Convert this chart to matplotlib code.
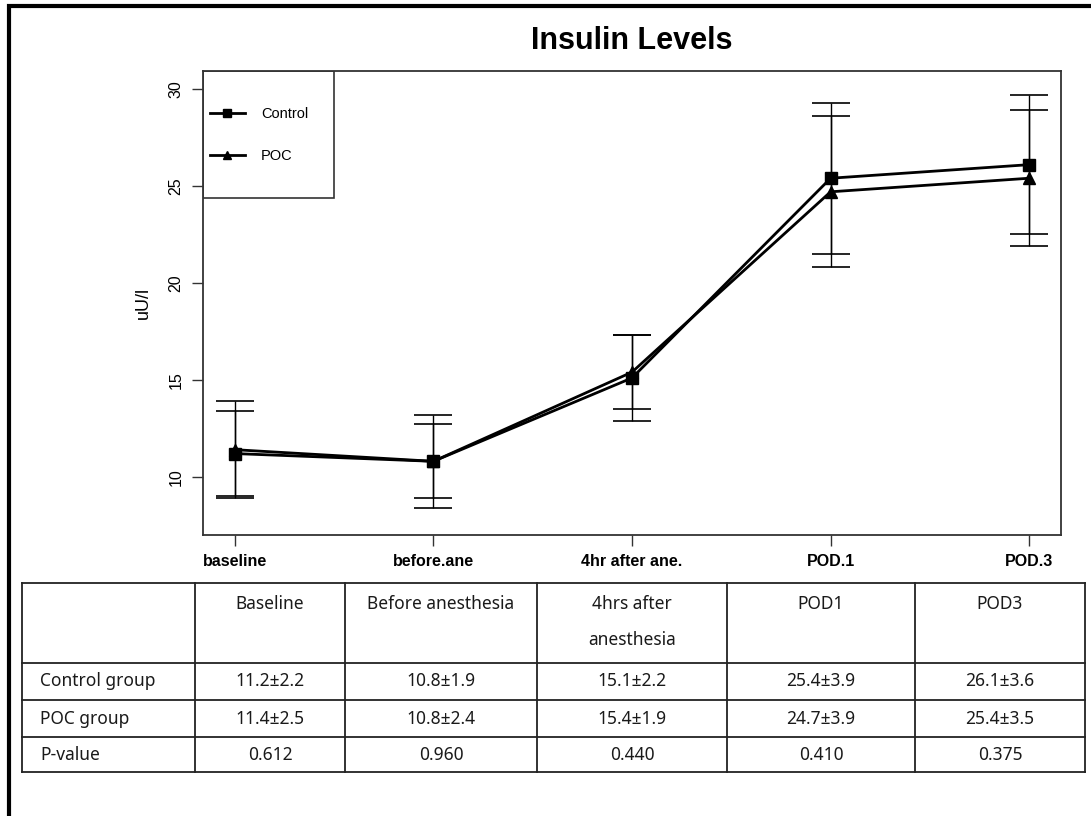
"""Insulin levels by time point for the Control and POC groups, with summary table."""

import matplotlib
matplotlib.use('Agg')
import matplotlib.pyplot as plt
from matplotlib.patches import Rectangle

plt.rcParams['font.family'] = ['Liberation Sans', 'DejaVu Sans']

TIME_POINTS = ['baseline', 'before.ane', '4hr after ane.', 'POD.1', 'POD.3']
CONTROL_MEAN = [11.2, 10.8, 15.1, 25.4, 26.1]
CONTROL_SD = [2.2, 1.9, 2.2, 3.9, 3.6]
POC_MEAN = [11.4, 10.8, 15.4, 24.7, 25.4]
POC_SD = [2.5, 2.4, 1.9, 3.9, 3.5]
P_VALUES = ['0.612', '0.960', '0.440', '0.410', '0.375']

TABLE_HEADERS = ['', 'Baseline', 'Before anesthesia', '4hrs after\nanesthesia',
                 'POD1', 'POD3']
ROW_LABELS = ['Control group', 'POC group', 'P-value']

W, H = 1091, 816


def fmt(mean, sd):
  return f'{mean:.1f}\u00b1{sd:.1f}'


def px_axes(fig, left, top, right, bottom):
  return fig.add_axes([left / W, 1 - bottom / H, (right - left) / W,
                       (bottom - top) / H])


def draw_plot(fig):
  ax = px_axes(fig, 203, 71, 1061, 535)
  x = list(range(1, len(TIME_POINTS) + 1))
  for mean, sd in ((CONTROL_MEAN, CONTROL_SD), (POC_MEAN, POC_SD)):
    ax.errorbar(x, mean, yerr=sd, fmt='none', ecolor='black', elinewidth=1,
                capsize=14, capthick=1.2)
  ax.plot(x, CONTROL_MEAN, color='black', lw=2, marker='s', markersize=8,
          label='Control')
  ax.plot(x, POC_MEAN, color='black', lw=2, marker='^', markersize=8.5,
          label='POC')

  ax.set_xlim(0.84, 5.16)
  ax.set_ylim(7.0, 30.93)
  ax.set_xticks(x)
  ax.set_xticklabels(TIME_POINTS, fontsize=11.5, fontweight='bold')
  ax.set_yticks([10, 15, 20, 25, 30])
  ax.set_yticklabels(['10', '15', '20', '25', '30'], fontsize=11.5,
                     rotation=90, va='center')
  ax.tick_params(direction='out', length=8, width=1, colors='#333333',
                 labelcolor='black', pad=6)
  ax.set_ylabel('uU/l', fontsize=13, labelpad=12)
  for spine in ax.spines.values():
    spine.set_linewidth(1.3)
    spine.set_color('#333333')
  ax.set_title('Insulin Levels', fontsize=22, fontweight='bold', pad=16)

  # Legend box in the top-left corner, R style
  ax.add_patch(Rectangle((0, 0.726), 0.153, 0.274, transform=ax.transAxes,
                         fill=False, edgecolor='#333333', lw=1.2, zorder=5))
  ax.legend(loc='upper left', bbox_to_anchor=(0.008, 0.923), frameon=False,
            borderpad=0, borderaxespad=0, labelspacing=1.95, handlelength=2.4,
            handletextpad=1.1, fontsize=10.5, markerscale=0.75)


def draw_table(fig):
  ax = fig.add_axes([0, 0, 1, 1])
  ax.set_xlim(0, W)
  ax.set_ylim(H, 0)
  ax.axis('off')

  # Outer frame (left and top edges)
  ax.plot([9, 9, W], [H, 6, 6], color='black', lw=3, solid_joinstyle='miter')

  col_edges = [22, 195, 345, 537, 727, 915, 1085]
  row_edges = [583, 663, 700, 737, 772]
  for cx in col_edges:
    ax.plot([cx, cx], [row_edges[0], row_edges[-1]], color='#222222', lw=1.3)
  for ry in row_edges:
    ax.plot([col_edges[0], col_edges[-1]], [ry, ry], color='#222222', lw=1.3)

  font = dict(family=['Noto Sans', 'DejaVu Sans'], fontsize=12.5,
              color='#1a1a1a')
  for i, header in enumerate(TABLE_HEADERS):
    cx = (col_edges[i] + col_edges[i + 1]) / 2
    for j, line in enumerate(header.split('\n')):
      ax.text(cx, 604 + j * 36, line, ha='center', va='center', **font)

  rows = [
      [fmt(m, s) for m, s in zip(CONTROL_MEAN, CONTROL_SD)],
      [fmt(m, s) for m, s in zip(POC_MEAN, POC_SD)],
      P_VALUES,
  ]
  for r, (label, values) in enumerate(zip(ROW_LABELS, rows)):
    cy = (row_edges[r + 1] + row_edges[r + 2]) / 2
    ax.text(col_edges[0] + 18, cy, label, ha='left', va='center', **font)
    for c, value in enumerate(values):
      cx = (col_edges[c + 1] + col_edges[c + 2]) / 2
      ax.text(cx, cy, value, ha='center', va='center', **font)


def main():
  fig = plt.figure(figsize=(W / 100, H / 100), dpi=100)
  draw_table(fig)
  draw_plot(fig)
  fig.savefig('out.png', dpi=100)
  plt.close(fig)


if __name__ == '__main__':
  main()
